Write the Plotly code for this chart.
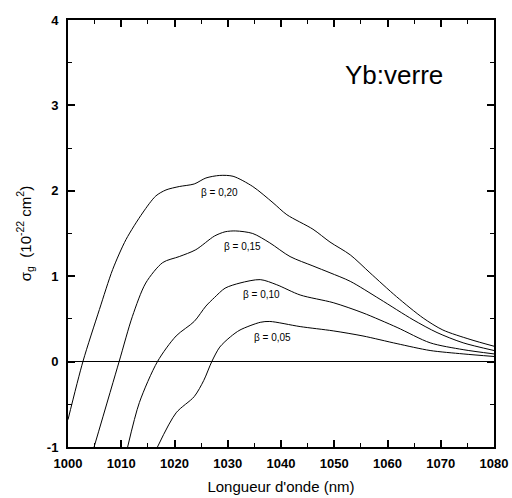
import plotly.graph_objects as go

# beta = 0.20
x20 = [1000, 1002.8, 1005.9, 1008.4, 1010.9, 1014, 1016.5, 1018.4, 1020.9, 1023.7, 1025.9, 1028.5,
       1031, 1034.7, 1038.5, 1041.1, 1046, 1049.2, 1053, 1056.7, 1061.7, 1066.7, 1070.4, 1075.5, 1080]
y20 = [-0.68, 0, 0.61, 1.08, 1.43, 1.74, 1.94, 2.01, 2.05, 2.08, 2.15, 2.18,
       2.17, 2.05, 1.86, 1.72, 1.55, 1.40, 1.25, 1.04, 0.76, 0.51, 0.37, 0.26, 0.18]
# beta = 0.15
x15 = [1004.9, 1009.6, 1012.1, 1014.6, 1017.8, 1020.9, 1024, 1027.5, 1029.5, 1031.5, 1034.7, 1037.9,
       1041.7, 1046, 1049.2, 1053, 1058.6, 1064.8, 1069.3, 1074.2, 1080]
y15 = [-1, 0, 0.53, 0.92, 1.16, 1.23, 1.31, 1.47, 1.52, 1.53, 1.50, 1.39,
       1.23, 1.12, 1.04, 0.94, 0.73, 0.49, 0.34, 0.22, 0.13]
# beta = 0.10
x10 = [1011.2, 1013.4, 1016.8, 1020.3, 1023.7, 1025.9, 1027.5, 1029.5, 1032.3, 1036.1, 1039.2, 1043.6,
       1049.8, 1055.4, 1061.8, 1068, 1074.2, 1080]
y10 = [-1, -0.48, 0, 0.30, 0.47, 0.65, 0.75, 0.86, 0.92, 0.96, 0.90, 0.78,
       0.69, 0.57, 0.40, 0.22, 0.14, 0.09]
# beta = 0.05
x05 = [1016.8, 1020.3, 1023.7, 1025.5, 1027.0, 1028.5, 1030.5, 1032.3, 1036.1, 1037.9, 1043.6, 1049.8,
       1055.4, 1061.8, 1068, 1074.2, 1080]
y05 = [-1, -0.60, -0.41, -0.22, 0, 0.17, 0.29, 0.37, 0.46, 0.47, 0.41, 0.36,
       0.30, 0.21, 0.13, 0.09, 0.06]

labels = ["β = 0,20", "β = 0,15", "β = 0,10", "β = 0,05"]
label_x = [1028.5, 1032.8, 1036.3, 1038.4]
label_y = [1.98, 1.35, 0.78, 0.28]

xticks = [1000, 1010, 1020, 1030, 1040, 1050, 1060, 1070, 1080]
yticks = [-1, 0, 1, 2, 3, 4]

FONT = "Liberation Sans, Arial, sans-serif"

fig = go.Figure()
for xs, ys in [(x20, y20), (x15, y15), (x10, y10), (x05, y05)]:
    fig.add_trace(go.Scatter(x=xs, y=ys, mode="lines",
                             line=dict(color="black", width=1, shape="spline", smoothing=0.8),
                             showlegend=False, hoverinfo="skip"))

for t, lx, ly in zip(labels, label_x, label_y):
    fig.add_annotation(x=lx, y=ly, text=t, showarrow=False,
                       font=dict(family=FONT, size=10, color="black"))

fig.add_annotation(x=1061.3, y=3.36, text="Yb:verre", showarrow=False,
                   font=dict(family=FONT, size=26, color="black"))

fig.update_xaxes(range=[1000, 1080], tickvals=xticks, ticktext=[str(v) for v in xticks],
                 ticks="inside", ticklen=7, tickwidth=1.5, tickcolor="black",
                 showline=True, linewidth=2, linecolor="black", mirror="allticks",
                 showgrid=False, zeroline=False, automargin=False, ticklabelstandoff=3,
                 minor=dict(dtick=5, ticks="inside", ticklen=4, tickcolor="black", tickwidth=1.2),
                 tickfont=dict(family=FONT, size=13, color="black", weight="bold"),
                 title=dict(text="Longueur d'onde (nm)", font=dict(family=FONT, size=15, color="black"),
                            standoff=12))
fig.update_yaxes(range=[-1, 4], tickvals=yticks, ticktext=[str(v) for v in yticks],
                 ticks="inside", ticklen=7, tickwidth=1.5, tickcolor="black",
                 showline=True, linewidth=2, linecolor="black", mirror="allticks",
                 showgrid=False, zeroline=True, zerolinecolor="black", zerolinewidth=1,
                 automargin=False, ticklabelstandoff=5,
                 minor=dict(dtick=0.5, ticks="inside", ticklen=4, tickcolor="black", tickwidth=1.2),
                 tickfont=dict(family=FONT, size=13, color="black", weight="bold"),
                 title=dict(text="σ<sub>g</sub>  (10<sup>-22</sup> cm<sup>2</sup>)",
                            font=dict(family=FONT, size=15, color="black"), standoff=12))

fig.update_layout(width=512, height=498, margin=dict(l=68, r=18, t=20, b=51),
                  paper_bgcolor="white", plot_bgcolor="white")

fig.write_html("out.html")
